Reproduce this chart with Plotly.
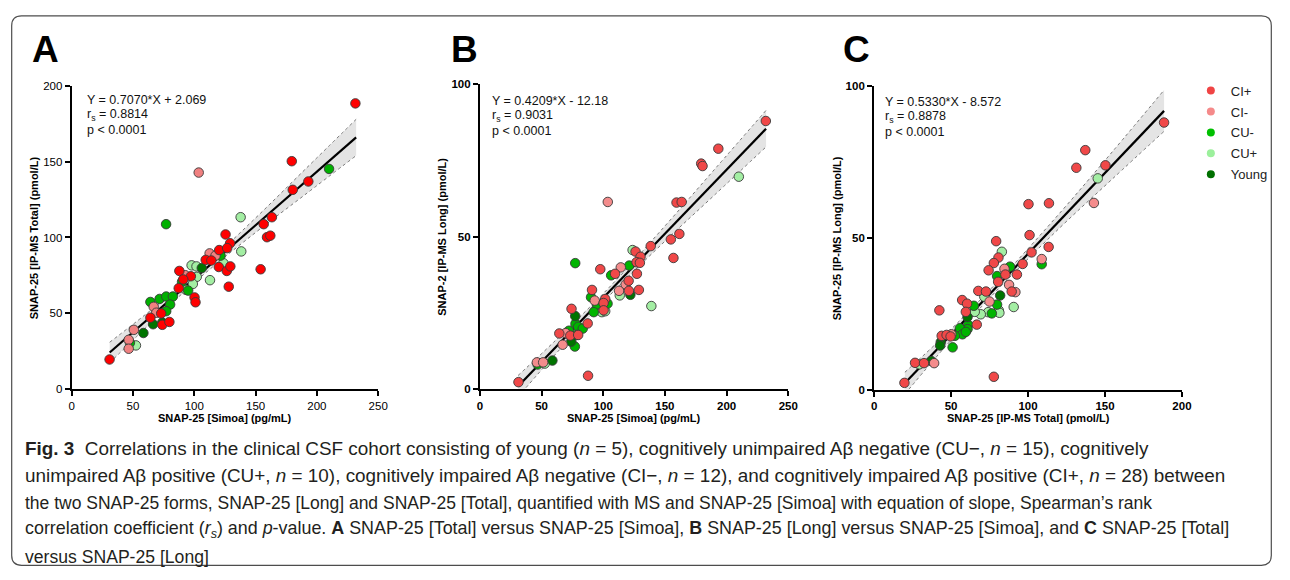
import plotly.graph_objects as go

# page is 1290x580; the browser body keeps an 8px margin, so the figure is
# drawn 16px smaller and every position below is given in page pixels
PAGE_W, PAGE_H, OFF = 1290, 580, 8
W, H = PAGE_W - 2 * OFF, PAGE_H - 2 * OFF

# ---- A: SNAP-25 [IP-MS Total] vs SNAP-25 [Simoa] ----
a_cip_x = [231.4, 179.5, 193.0, 180.3, 163.3, 156.6, 159.3, 162.0, 154.1, 125.5, 129.2, 120.3, 126.8, 109.3, 113.9,
           120.0, 126.5, 129.4, 128.1, 87.8, 97.2, 91.0, 87.3, 100.2, 101.0, 64.2, 73.0, 73.9, 79.7, 30.9]
a_cip_y = [188.6, 150.4, 137.0, 131.5, 113.4, 108.8, 100.2, 101.2, 79.0, 102.0, 96.2, 91.7, 93.0, 85.2, 84.8,
           80.5, 77.9, 80.9, 67.5, 77.9, 74.4, 72.3, 66.5, 60.4, 57.2, 47.0, 49.8, 42.3, 44.2, 19.4]
a_cim_x = [103.6, 112.5, 117.3, 92.6, 66.9, 69.0, 50.7, 46.5, 46.5]
a_cim_y = [142.9, 89.5, 88.0, 75.1, 54.2, 50.3, 39.0, 32.4, 26.5]
a_cum_x = [77.0, 209.9, 121.4, 90.0, 95.0, 64.2, 71.7, 77.1, 82.5, 80.3, 77.1, 47.5]
a_cum_y = [108.8, 145.3, 88.0, 70.7, 64.9, 57.4, 59.4, 61.0, 61.0, 55.7, 51.3, 30.4]
a_cup_x = [137.8, 138.3, 123.8, 112.8, 97.8, 101.8, 102.0, 98.8, 93.2, 52.4]
a_cup_y = [113.4, 90.8, 83.0, 71.8, 81.6, 80.9, 74.0, 69.3, 65.4, 28.7]
a_yng_x = [106.1, 66.4, 73.9, 58.5]
a_yng_y = [79.8, 42.7, 43.8, 36.9]
a_fit = (0.7070, 2.069, 31, 232)   # slope, intercept, x from, x to
a_band_x = [31, 60, 105, 150, 190, 232]
a_band_lo = [17.2, 40.0, 73.7, 103.3, 128.1, 154.1]
a_band_hi = [30.8, 49.0, 78.9, 112.9, 144.7, 178.1]
a_stats = ["Y = 0.7070*X + 2.069", "r<sub>s</sub> = 0.8814", "p < 0.0001"]

# ---- B: SNAP-25 [IP-MS Long] vs SNAP-25 [Simoa] ----
b_cip_x = [231.8, 193.3, 179.4, 180.5, 159.4, 163.6, 161.7, 154.8, 156.9, 138.5, 126.2, 130.2, 127.0, 129.7, 109.6,
           97.6, 127.3, 120.6, 120.8, 128.9, 90.9, 101.6, 100.3, 100.3, 74.3, 87.4, 64.4, 73.3, 79.7, 87.7, 31.3]
b_cip_y = [88.0, 78.9, 74.0, 73.2, 61.2, 61.4, 50.9, 49.1, 43.0, 46.9, 45.1, 43.4, 41.6, 41.4, 37.8,
           39.3, 37.8, 35.5, 32.2, 32.5, 32.5, 29.5, 28.2, 25.8, 26.3, 21.5, 18.2, 17.5, 17.7, 4.3, 2.2]
b_cim_x = [103.7, 114.2, 118.2, 112.8, 93.1, 69.5, 67.1, 46.2, 51.3]
b_cim_y = [61.4, 39.9, 34.3, 32.2, 29.0, 18.3, 14.5, 8.7, 8.7]
b_cum_x = [121.1, 106.4, 77.3, 90.1, 94.9, 103.5, 92.3, 77.5, 79.7, 83.4, 72.2, 78.3, 77.0, 46.8]
b_cum_y = [40.5, 37.3, 41.3, 30.1, 27.7, 28.0, 25.2, 21.4, 20.4, 19.8, 19.1, 17.7, 13.9, 8.0]
b_cup_x = [209.9, 123.8, 113.4, 139.0, 93.6, 98.9, 101.6, 52.6]
b_cup_y = [69.7, 45.6, 30.7, 27.2, 25.7, 25.2, 25.5, 8.3]
b_yng_x = [122.0, 77.3, 74.1, 58.8]
b_yng_y = [30.9, 23.9, 15.5, 9.3]
b_fit = (0.4209, -12.18, 31, 232)
b_band_x = [31, 60, 105, 150, 190, 232]
b_band_lo = [-2.6, 10.8, 30.6, 48.5, 63.6, 79.5]
b_band_hi = [4.4, 15.4, 33.4, 53.5, 72.0, 91.5]
b_stats = ["Y = 0.4209*X - 12.18", "r<sub>s</sub> = 0.9031", "p < 0.0001"]

# ---- C: SNAP-25 [IP-MS Long] vs SNAP-25 [IP-MS Total] ----
c_cip_x = [188.4, 137.2, 131.4, 150.3, 100.3, 113.6, 101.0, 113.4, 102.3, 79.3, 80.8, 77.8, 96.5, 74.4, 85.3, 92.8,
           80.6, 89.4, 67.7, 72.7, 57.2, 60.4, 42.4, 59.6, 66.7, 43.9, 47.1, 49.7, 26.6, 32.4, 77.8, 19.7]
c_cip_y = [88.0, 78.9, 73.1, 73.9, 61.1, 61.4, 50.9, 47.0, 45.2, 48.9, 43.5, 41.7, 41.4, 39.3, 37.9, 37.9,
           35.5, 32.3, 32.5, 32.3, 29.5, 28.3, 26.1, 25.6, 21.4, 17.7, 18.0, 17.5, 8.8, 8.7, 4.2, 2.2]
c_cim_x = [142.8, 108.9, 84.7, 87.7, 91.8, 75.0, 50.2, 39.0]
c_cim_y = [61.5, 43.0, 39.8, 34.5, 32.1, 29.0, 18.2, 8.7]
c_cum_x = [108.9, 88.3, 79.9, 64.8, 79.9, 76.5, 61.1, 60.7, 55.7, 57.4, 59.6, 52.5, 51.0]
c_cum_y = [41.3, 40.5, 37.4, 27.6, 28.0, 25.1, 21.3, 19.9, 20.2, 18.2, 19.0, 17.7, 13.9]
c_cup_x = [145.3, 83.0, 71.6, 81.0, 81.4, 74.1, 69.3, 65.4, 90.7, 29.4]
c_cup_y = [69.6, 45.4, 30.6, 26.1, 25.3, 25.5, 24.8, 25.6, 27.2, 8.3]
c_yng_x = [81.9, 60.7, 43.3, 42.9, 37.1]
c_yng_y = [31.0, 23.9, 15.6, 14.5, 9.4]
c_fit = (0.5330, -8.572, 21, 188.4)
c_band_x = [20, 45, 80, 120, 155, 188.4]
c_band_lo = [-1.5, 13.4, 32.8, 53.0, 69.5, 85.1]
c_band_hi = [5.7, 17.4, 35.4, 57.8, 78.5, 98.7]
c_stats = ["Y = 0.5330*X - 8.572", "r<sub>s</sub> = 0.8878", "p < 0.0001"]

groups = ["CI+", "CI-", "CU-", "CU+", "Young"]

FONT = "Liberation Sans, Arial, sans-serif"
col_a = {"CI+": "#ff0000", "CI-": "#f08080", "CU-": "#00b000", "CU+": "#a3eea3", "Young": "#007400"}
col_bc = {"CI+": "#f04848", "CI-": "#f48c8c", "CU-": "#00b400", "CU+": "#a3eea3", "Young": "#007400"}
col_leg = {"CI+": "#f04444", "CI-": "#f58a8a", "CU-": "#00c000", "CU+": "#9cf09c", "Young": "#007000"}


def px_x(p):
    return (p - OFF) / W


def px_y(p):
    return 1 - (p - OFF) / H


def note(text, x, y, size, xanchor="left", angle=0, family=FONT, color="black"):
    return dict(text=text, x=px_x(x), y=px_y(y), xref="paper", yref="paper", xanchor=xanchor,
                yanchor="middle", textangle=angle, showarrow=False,
                font=dict(family=family, size=size, color=color))


panels = [
    dict(ax="", pts={"CI+": (a_cip_x, a_cip_y), "CI-": (a_cim_x, a_cim_y), "CU-": (a_cum_x, a_cum_y),
                     "CU+": (a_cup_x, a_cup_y), "Young": (a_yng_x, a_yng_y)},
         fit=a_fit, band=(a_band_x, a_band_lo, a_band_hi), stats=a_stats, colors=col_a,
         box=(69.3, 379.0, 81.7, 391.0), xr=250, yr=200, ydt=50, bold_ticks=False,
         letter="A", letter_x=27, stat_x=83, stat_y=[96, 111, 127],
         xtitle="SNAP-25 [Simoa] (pg/mL)", ytitle="SNAP-25 [IP-MS Total] (pmol/L)", ytitle_x=32),
    dict(ax="2", pts={"CI+": (b_cip_x, b_cip_y), "CI-": (b_cim_x, b_cim_y), "CU-": (b_cum_x, b_cum_y),
                      "CU+": (b_cup_x, b_cup_y), "Young": (b_yng_x, b_yng_y)},
         fit=b_fit, band=(b_band_x, b_band_lo, b_band_hi), stats=b_stats, colors=col_bc,
         box=(481.7, 793.3, 80.0, 391.0), xr=250, yr=100, ydt=50, bold_ticks=True,
         letter="B", letter_x=451, stat_x=491.5, stat_y=[97, 112, 128],
         xtitle="SNAP-25 [Simoa] (pg/mL)", ytitle="SNAP-2 [IP-MS Long] (pmol/L)", ytitle_x=443.5),
    dict(ax="3", pts={"CI+": (c_cip_x, c_cip_y), "CI-": (c_cim_x, c_cim_y), "CU-": (c_cum_x, c_cum_y),
                      "CU+": (c_cup_x, c_cup_y), "Young": (c_yng_x, c_yng_y)},
         fit=c_fit, band=(c_band_x, c_band_lo, c_band_hi), stats=c_stats, colors=col_bc,
         box=(880.0, 1191.0, 81.7, 391.7), xr=200, yr=100, ydt=50, bold_ticks=True,
         letter="C", letter_x=847, stat_x=889, stat_y=[98, 113, 129],
         xtitle="SNAP-25 [IP-MS Total] (pmol/L)", ytitle="SNAP-25 [IP-MS Long] (pmol/L)", ytitle_x=842),
]

fig = go.Figure()
annotations = []
layout_axes = {}

for p in panels:
    xa, ya = "x" + p["ax"], "y" + p["ax"]
    bx, blo, bhi = p["band"]
    # confidence band
    fig.add_trace(go.Scatter(x=bx, y=bhi, xaxis=xa, yaxis=ya, mode="lines", line_shape="spline",
                             line=dict(color="#777777", width=1, dash="dot"), showlegend=False, hoverinfo="skip"))
    fig.add_trace(go.Scatter(x=bx, y=blo, xaxis=xa, yaxis=ya, mode="lines", line_shape="spline",
                             line=dict(color="#777777", width=1, dash="dot"), fill="tonexty",
                             fillcolor="rgba(195,195,195,0.45)", showlegend=False, hoverinfo="skip"))
    # regression line
    slope, icpt, x0, x1 = p["fit"]
    fig.add_trace(go.Scatter(x=[x0, x1], y=[slope * x0 + icpt, slope * x1 + icpt], xaxis=xa, yaxis=ya,
                             mode="lines", line=dict(color="black", width=2.2), showlegend=False))
    # points
    for g in ["CU+", "CU-", "Young", "CI-", "CI+"]:
        xs, ys = p["pts"][g]
        fig.add_trace(go.Scatter(x=xs, y=ys, xaxis=xa, yaxis=ya, mode="markers", name=g, showlegend=False,
                                 cliponaxis=False,
                                 marker=dict(size=9.5, color=p["colors"][g], line=dict(color="#3a3a3a", width=0.9))))

    l, r, t, b = p["box"]
    tickfont = dict(family=FONT, size=11.5, color="black", weight="bold" if p["bold_ticks"] else "normal")
    common = dict(showline=True, linecolor="black", linewidth=2, ticks="outside", ticklen=5, tickwidth=2,
                  tickcolor="black", showgrid=False, zeroline=False, tickfont=tickfont)
    layout_axes["xaxis" + p["ax"]] = dict(domain=[px_x(l), px_x(r)], range=[0, p["xr"]], anchor=ya,
                                          tick0=0, dtick=50, **common)
    layout_axes["yaxis" + p["ax"]] = dict(domain=[px_y(b), px_y(t)], range=[0, p["yr"]], anchor=xa,
                                          tick0=0, dtick=p["ydt"], **common)

    annotations.append(note("<b>" + p["letter"] + "</b>", p["letter_x"], 44, 37))
    for txt, yy in zip(p["stats"], p["stat_y"]):
        annotations.append(note(txt, p["stat_x"], yy, 12.5, color="#111111"))
    annotations.append(note("<b>" + p["xtitle"] + "</b>", (l + r) / 2, 421, 11, xanchor="center"))
    annotations.append(note("<b>" + p["ytitle"] + "</b>", p["ytitle_x"], (t + b) / 2, 11,
                            xanchor="center", angle=-90))

# legend entries (dots without outline)
for g in groups:
    fig.add_trace(go.Scatter(x=[None], y=[None], xaxis="x3", yaxis="y3", mode="markers", name=g,
                             legendgroup=g, marker=dict(size=8, color=col_leg[g])))

caption = [
    "<b>Fig. 3</b>\u00a0\u00a0Correlations in the clinical CSF cohort consisting of young (<i>n</i> = 5), "
    "cognitively unimpaired A\u03b2 negative (CU\u2212, <i>n</i> = 15), cognitively",
    "unimpaired A\u03b2 positive (CU+, <i>n</i> = 10), cognitively impaired A\u03b2 negative (CI\u2212, <i>n</i> = 12), "
    "and cognitively impaired A\u03b2 positive (CI+, <i>n</i> = 28) between",
    "the two SNAP-25 forms, SNAP-25 [Long] and SNAP-25 [Total], quantified with MS and SNAP-25 [Simoa] "
    "with equation of slope, Spearman\u2019s rank",
    "correlation coefficient (<i>r<sub>s</sub></i>) and <i>p</i>-value. <b>A</b> SNAP-25 [Total] versus "
    "SNAP-25 [Simoa], <b>B</b> SNAP-25 [Long] versus SNAP-25 [Simoa], and <b>C</b> SNAP-25 [Total]",
    "versus SNAP-25 [Long]",
]
caption_size = [18.9, 18.9, 17.5, 17.9, 17.6]
for i, line in enumerate(caption):
    annotations.append(note(line, 20, 452 + 27.7 * i, caption_size[i], color="#231f20"))

# rounded frame (clamped to the drawable area)
L, T, R, B, rad = 8.7, 10, 1281.3, 571.3, 10
frame = (f"M {px_x(L)} {px_y(T + rad)} Q {px_x(L)} {px_y(T)} {px_x(L + rad)} {px_y(T)} "
         f"L {px_x(R - rad)} {px_y(T)} Q {px_x(R)} {px_y(T)} {px_x(R)} {px_y(T + rad)} "
         f"L {px_x(R)} {px_y(B - rad)} Q {px_x(R)} {px_y(B)} {px_x(R - rad)} {px_y(B)} "
         f"L {px_x(L + rad)} {px_y(B)} Q {px_x(L)} {px_y(B)} {px_x(L)} {px_y(B - rad)} Z")

fig.update_layout(
    width=W, height=H, margin=dict(l=0, r=0, t=0, b=0),
    paper_bgcolor="white", plot_bgcolor="white",
    font=dict(family=FONT, color="black"),
    annotations=annotations,
    shapes=[dict(type="path", xref="paper", yref="paper", path=frame, line=dict(color="#4d4d4d", width=1.2))],
    legend=dict(x=px_x(1200), y=px_y(71), xanchor="left", yanchor="top", font=dict(family=FONT, size=13,
                color="#222222"), itemwidth=30, tracegroupgap=1, bgcolor="rgba(0,0,0,0)"),
    showlegend=True,
    **layout_axes,
)

fig.write_html("out.html", config={"displayModeBar": False})
